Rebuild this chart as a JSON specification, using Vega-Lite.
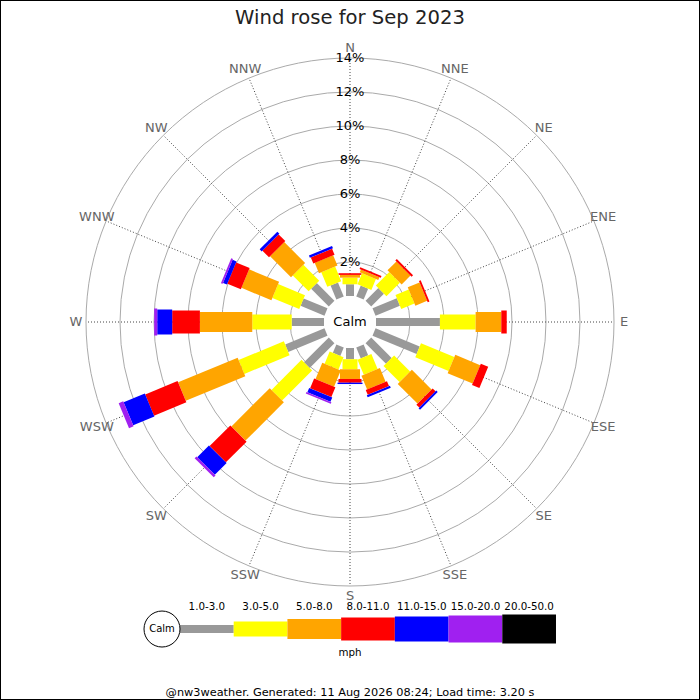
{
  "$schema": "https://vega.github.io/schema/vega-lite/v6.json",
  "width": 700,
  "height": 700,
  "padding": 0,
  "autosize": "none",
  "background": "white",
  "title": {"text": "Wind rose for Sep 2023", "fontSize": 19.6, "font": "DejaVu Sans", "fontWeight": "normal", "color": "#222222", "anchor": "middle", "frame": "group", "baseline": "alphabetic", "offset": -44},
  "config": {"font": "DejaVu Sans", "view": {"stroke": "#000000", "strokeWidth": 2}},
  "datasets": {
    "cats": [
      {"cat": "1.0-3.0", "lo": 1}, {"cat": "3.0-5.0", "lo": 3}, {"cat": "5.0-8.0", "lo": 5},
      {"cat": "8.0-11.0", "lo": 8}, {"cat": "11.0-15.0", "lo": 11}, {"cat": "15.0-20.0", "lo": 15},
      {"cat": "20.0-50.0", "lo": 20}
    ],
    "dirs": [
      {"dir": "N", "deg": 0}, {"dir": "NNE", "deg": 22.5}, {"dir": "NE", "deg": 45}, {"dir": "ENE", "deg": 67.5},
      {"dir": "E", "deg": 90}, {"dir": "ESE", "deg": 112.5}, {"dir": "SE", "deg": 135}, {"dir": "SSE", "deg": 157.5},
      {"dir": "S", "deg": 180}, {"dir": "SSW", "deg": 202.5}, {"dir": "SW", "deg": 225}, {"dir": "WSW", "deg": 247.5},
      {"dir": "W", "deg": 270}, {"dir": "WNW", "deg": 292.5}, {"dir": "NW", "deg": 315}, {"dir": "NNW", "deg": 337.5}
    ],
    "rings": [{"pct": 2}, {"pct": 4}, {"pct": 6}, {"pct": 8}, {"pct": 10}, {"pct": 12}, {"pct": 14}],
    "rose": [
      {"dir": "N", "deg": 0, "lo": 1, "pct": 0.69}, {"dir": "N", "deg": 0, "lo": 3, "pct": 0.39}, {"dir": "N", "deg": 0, "lo": 5, "pct": 0.16}, {"dir": "N", "deg": 0, "lo": 8, "pct": 0.10},
      {"dir": "NNE", "deg": 22.5, "lo": 1, "pct": 0.69}, {"dir": "NNE", "deg": 22.5, "lo": 3, "pct": 0.70}, {"dir": "NNE", "deg": 22.5, "lo": 5, "pct": 0.18}, {"dir": "NNE", "deg": 22.5, "lo": 8, "pct": 0.11},
      {"dir": "NE", "deg": 45, "lo": 1, "pct": 1.06}, {"dir": "NE", "deg": 45, "lo": 3, "pct": 1.12}, {"dir": "NE", "deg": 45, "lo": 5, "pct": 0.74}, {"dir": "NE", "deg": 45, "lo": 8, "pct": 0.12},
      {"dir": "ENE", "deg": 67.5, "lo": 1, "pct": 1.55}, {"dir": "ENE", "deg": 67.5, "lo": 3, "pct": 0.84}, {"dir": "ENE", "deg": 67.5, "lo": 5, "pct": 0.75}, {"dir": "ENE", "deg": 67.5, "lo": 8, "pct": 0.11},
      {"dir": "E", "deg": 90, "lo": 1, "pct": 3.76}, {"dir": "E", "deg": 90, "lo": 3, "pct": 2.10}, {"dir": "E", "deg": 90, "lo": 5, "pct": 1.51}, {"dir": "E", "deg": 90, "lo": 8, "pct": 0.32},
      {"dir": "ESE", "deg": 112.5, "lo": 1, "pct": 2.81}, {"dir": "ESE", "deg": 112.5, "lo": 3, "pct": 2.12}, {"dir": "ESE", "deg": 112.5, "lo": 5, "pct": 1.59}, {"dir": "ESE", "deg": 112.5, "lo": 8, "pct": 0.47},
      {"dir": "SE", "deg": 135, "lo": 1, "pct": 1.70}, {"dir": "SE", "deg": 135, "lo": 3, "pct": 1.33}, {"dir": "SE", "deg": 135, "lo": 5, "pct": 1.64}, {"dir": "SE", "deg": 135, "lo": 8, "pct": 0.24}, {"dir": "SE", "deg": 135, "lo": 11, "pct": 0.12},
      {"dir": "SSE", "deg": 157.5, "lo": 1, "pct": 0.69}, {"dir": "SSE", "deg": 157.5, "lo": 3, "pct": 0.96}, {"dir": "SSE", "deg": 157.5, "lo": 5, "pct": 0.87}, {"dir": "SSE", "deg": 157.5, "lo": 8, "pct": 0.31}, {"dir": "SSE", "deg": 157.5, "lo": 11, "pct": 0.13},
      {"dir": "S", "deg": 180, "lo": 1, "pct": 0.66}, {"dir": "S", "deg": 180, "lo": 3, "pct": 0.59}, {"dir": "S", "deg": 180, "lo": 5, "pct": 0.57}, {"dir": "S", "deg": 180, "lo": 8, "pct": 0.22}, {"dir": "S", "deg": 180, "lo": 11, "pct": 0.08},
      {"dir": "SSW", "deg": 202.5, "lo": 1, "pct": 0.53}, {"dir": "SSW", "deg": 202.5, "lo": 3, "pct": 0.78}, {"dir": "SSW", "deg": 202.5, "lo": 5, "pct": 1.04}, {"dir": "SSW", "deg": 202.5, "lo": 8, "pct": 0.62}, {"dir": "SSW", "deg": 202.5, "lo": 11, "pct": 0.28}, {"dir": "SSW", "deg": 202.5, "lo": 15, "pct": 0.10},
      {"dir": "SW", "deg": 225, "lo": 1, "pct": 2.06}, {"dir": "SW", "deg": 225, "lo": 3, "pct": 2.50}, {"dir": "SW", "deg": 225, "lo": 5, "pct": 3.19}, {"dir": "SW", "deg": 225, "lo": 8, "pct": 1.72}, {"dir": "SW", "deg": 225, "lo": 11, "pct": 0.98}, {"dir": "SW", "deg": 225, "lo": 15, "pct": 0.15},
      {"dir": "WSW", "deg": 247.5, "lo": 1, "pct": 2.50}, {"dir": "WSW", "deg": 247.5, "lo": 3, "pct": 2.88}, {"dir": "WSW", "deg": 247.5, "lo": 5, "pct": 3.79}, {"dir": "WSW", "deg": 247.5, "lo": 8, "pct": 2.06}, {"dir": "WSW", "deg": 247.5, "lo": 11, "pct": 1.35}, {"dir": "WSW", "deg": 247.5, "lo": 15, "pct": 0.29},
      {"dir": "W", "deg": 270, "lo": 1, "pct": 1.90}, {"dir": "W", "deg": 270, "lo": 3, "pct": 2.32}, {"dir": "W", "deg": 270, "lo": 5, "pct": 3.08}, {"dir": "W", "deg": 270, "lo": 8, "pct": 1.63}, {"dir": "W", "deg": 270, "lo": 11, "pct": 0.88}, {"dir": "W", "deg": 270, "lo": 15, "pct": 0.18},
      {"dir": "WNW", "deg": 292.5, "lo": 1, "pct": 1.52}, {"dir": "WNW", "deg": 292.5, "lo": 3, "pct": 1.71}, {"dir": "WNW", "deg": 292.5, "lo": 5, "pct": 1.91}, {"dir": "WNW", "deg": 292.5, "lo": 8, "pct": 0.86}, {"dir": "WNW", "deg": 292.5, "lo": 11, "pct": 0.25}, {"dir": "WNW", "deg": 292.5, "lo": 15, "pct": 0.11},
      {"dir": "NW", "deg": 315, "lo": 1, "pct": 1.47}, {"dir": "NW", "deg": 315, "lo": 3, "pct": 1.32}, {"dir": "NW", "deg": 315, "lo": 5, "pct": 1.74}, {"dir": "NW", "deg": 315, "lo": 8, "pct": 0.55}, {"dir": "NW", "deg": 315, "lo": 11, "pct": 0.17},
      {"dir": "NNW", "deg": 337.5, "lo": 1, "pct": 0.89}, {"dir": "NNW", "deg": 337.5, "lo": 3, "pct": 0.93}, {"dir": "NNW", "deg": 337.5, "lo": 5, "pct": 0.66}, {"dir": "NNW", "deg": 337.5, "lo": 8, "pct": 0.38}, {"dir": "NNW", "deg": 337.5, "lo": 11, "pct": 0.15}
    ]
  },
  "resolve": {"scale": {"x": "independent"}},
  "layer": [
    {
      "layer": [
        {
          "data": {"name": "rings"},
          "transform": [{"calculate": "datum.pct + 1.5294", "as": "r"}],
          "mark": {"type": "point", "shape": "circle", "filled": false, "color": "#aaaaaa", "strokeWidth": 1, "opacity": 1},
          "encoding": {
            "x": {"datum": 0, "type": "quantitative", "scale": {"domain": [-20.588, 20.588], "nice": false, "zero": false}, "axis": null},
            "y": {"datum": 0, "type": "quantitative", "scale": {"domain": [-22.235, 18.941], "nice": false, "zero": false}, "axis": null},
            "size": {"field": "r", "type": "quantitative", "scale": {"type": "pow", "exponent": 2, "domain": [0, 20], "range": [0, 462400]}, "legend": null}
          }
        },
        {
          "data": {"name": "dirs"},
          "transform": [
            {"calculate": "0", "as": "c"},
            {"calculate": "15.5294 * sin(datum.deg * PI / 180)", "as": "xe"},
            {"calculate": "15.5294 * cos(datum.deg * PI / 180)", "as": "ye"}
          ],
          "mark": {"type": "rule", "color": "#444444", "strokeWidth": 1, "strokeDash": [1, 2]},
          "encoding": {
            "x": {"field": "c", "type": "quantitative", "scale": {"domain": [-20.588, 20.588], "nice": false, "zero": false}, "axis": null},
            "y": {"field": "c", "type": "quantitative", "scale": {"domain": [-22.235, 18.941], "nice": false, "zero": false}, "axis": null},
            "x2": {"field": "xe"},
            "y2": {"field": "ye"}
          }
        },
        {
          "data": {"values": [{"label": "Calm"}]},
          "mark": {"type": "point", "shape": "circle", "filled": true, "color": "#ffffff", "size": 2704, "opacity": 1, "strokeWidth": 0},
          "encoding": {
            "x": {"datum": 0, "type": "quantitative", "scale": {"domain": [-20.588, 20.588], "nice": false, "zero": false}, "axis": null},
            "y": {"datum": 0, "type": "quantitative", "scale": {"domain": [-22.235, 18.941], "nice": false, "zero": false}, "axis": null}
          }
        },
        {
          "data": {"name": "rose"},
          "transform": [
            {"stack": "pct", "groupby": ["deg"], "sort": [{"field": "lo", "order": "ascending"}], "as": ["p0", "p1"]},
            {"calculate": "(datum.p0 + 1.5294) * sin(datum.deg * PI / 180)", "as": "x0"},
            {"calculate": "(datum.p0 + 1.5294) * cos(datum.deg * PI / 180)", "as": "y0"},
            {"calculate": "(datum.p1 + 1.5294) * sin(datum.deg * PI / 180)", "as": "x1"},
            {"calculate": "(datum.p1 + 1.5294) * cos(datum.deg * PI / 180)", "as": "y1"}
          ],
          "mark": {"type": "rule", "strokeCap": "butt"},
          "encoding": {
            "x": {"field": "x0", "type": "quantitative", "scale": {"domain": [-20.588, 20.588], "nice": false, "zero": false}, "axis": null},
            "y": {"field": "y0", "type": "quantitative", "scale": {"domain": [-22.235, 18.941], "nice": false, "zero": false}, "axis": null},
            "x2": {"field": "x1"},
            "y2": {"field": "y1"},
            "color": {"field": "lo", "type": "ordinal", "scale": {"type": "ordinal", "domain": [1, 3, 5, 8, 11, 15, 20], "range": ["#999999", "#ffff00", "#ffa500", "#ff0000", "#0000ff", "#a020f0", "#000000"]}, "legend": null},
            "strokeWidth": {"field": "lo", "type": "ordinal", "scale": {"type": "ordinal", "domain": [1, 3, 5, 8, 11, 15, 20], "range": [8, 15, 20, 23, 25, 27, 29]}, "legend": null}
          }
        },
        {
          "data": {"name": "rings"},
          "transform": [{"calculate": "datum.pct + 1.5294", "as": "r"}, {"calculate": "datum.pct + '%'", "as": "label"}],
          "mark": {"type": "text", "fontSize": 13, "color": "#000000", "align": "center", "baseline": "middle"},
          "encoding": {
            "x": {"datum": 0, "type": "quantitative", "scale": {"domain": [-20.588, 20.588], "nice": false, "zero": false}, "axis": null},
            "y": {"field": "r", "type": "quantitative", "scale": {"domain": [-22.235, 18.941], "nice": false, "zero": false}, "axis": null},
            "text": {"field": "label"}
          }
        },
        {
          "data": {"name": "dirs"},
          "transform": [
            {"calculate": "16.12 * sin(datum.deg * PI / 180)", "as": "xl"},
            {"calculate": "16.12 * cos(datum.deg * PI / 180)", "as": "yl"}
          ],
          "mark": {"type": "text", "fontSize": 13, "color": "#666666", "align": "center", "baseline": "middle"},
          "encoding": {
            "x": {"field": "xl", "type": "quantitative", "scale": {"domain": [-20.588, 20.588], "nice": false, "zero": false}, "axis": null},
            "y": {"field": "yl", "type": "quantitative", "scale": {"domain": [-22.235, 18.941], "nice": false, "zero": false}, "axis": null},
            "text": {"field": "dir"}
          }
        },
        {
          "data": {"values": [{"label": "Calm"}]},
          "mark": {"type": "text", "fontSize": 13, "color": "#000000", "align": "center", "baseline": "middle"},
          "encoding": {
            "x": {"datum": 0, "type": "quantitative", "scale": {"domain": [-20.588, 20.588], "nice": false, "zero": false}, "axis": null},
            "y": {"datum": 0, "type": "quantitative", "scale": {"domain": [-22.235, 18.941], "nice": false, "zero": false}, "axis": null},
            "text": {"field": "label"}
          }
        },
        {
          "data": {"values": [{"label": "@nw3weather. Generated: 11 Aug 2026 08:24; Load time: 3.20 s"}]},
          "mark": {"type": "text", "fontSize": 11.3, "color": "#000000", "align": "center", "baseline": "middle"},
          "encoding": {
            "x": {"datum": 0, "type": "quantitative", "scale": {"domain": [-20.588, 20.588], "nice": false, "zero": false}, "axis": null},
            "y": {"datum": -21.82, "type": "quantitative", "scale": {"domain": [-22.235, 18.941], "nice": false, "zero": false}, "axis": null},
            "text": {"field": "label"}
          }
        }
      ]
    },
    {
      "layer": [
        {
          "data": {"name": "cats"},
          "transform": [
            {"joinaggregate": [{"op": "count", "as": "n0"}]},
            {"calculate": "1", "as": "n"},
            {"stack": "n", "groupby": ["n0"], "sort": [{"field": "lo", "order": "ascending"}], "as": ["s0", "s1"]}
          ],
          "mark": {"type": "rule", "strokeCap": "butt"},
          "encoding": {
            "x": {"field": "s0", "type": "quantitative", "scale": {"domain": [-3.351, 9.681], "nice": false, "zero": false}, "axis": null},
            "x2": {"field": "s1"},
            "y": {"datum": -18.06, "type": "quantitative", "scale": {"domain": [-22.235, 18.941], "nice": false, "zero": false}, "axis": null},
            "color": {"field": "lo", "type": "ordinal", "scale": {"type": "ordinal", "domain": [1, 3, 5, 8, 11, 15, 20], "range": ["#999999", "#ffff00", "#ffa500", "#ff0000", "#0000ff", "#a020f0", "#000000"]}, "legend": null},
            "strokeWidth": {"field": "lo", "type": "ordinal", "scale": {"type": "ordinal", "domain": [1, 3, 5, 8, 11, 15, 20], "range": [8, 15, 20, 23, 25, 27, 29]}, "legend": null}
          }
        },
        {
          "data": {"name": "cats"},
          "transform": [
            {"joinaggregate": [{"op": "count", "as": "n0"}]},
            {"calculate": "1", "as": "n"},
            {"stack": "n", "groupby": ["n0"], "sort": [{"field": "lo", "order": "ascending"}], "as": ["s0", "s1"]},
            {"calculate": "(datum.s0 + datum.s1) / 2", "as": "mid"}
          ],
          "mark": {"type": "text", "fontSize": 10.3, "color": "#000000", "align": "center", "baseline": "middle"},
          "encoding": {
            "x": {"field": "mid", "type": "quantitative", "scale": {"domain": [-3.351, 9.681], "nice": false, "zero": false}, "axis": null},
            "y": {"datum": -16.765, "type": "quantitative", "scale": {"domain": [-22.235, 18.941], "nice": false, "zero": false}, "axis": null},
            "text": {"field": "cat"}
          }
        },
        {
          "data": {"values": [{"label": "Calm"}]},
          "mark": {"type": "point", "shape": "circle", "filled": true, "fill": "#ffffff", "stroke": "#000000", "strokeWidth": 1, "size": 1296, "opacity": 1},
          "encoding": {
            "x": {"datum": -0.335, "type": "quantitative", "scale": {"domain": [-3.351, 9.681], "nice": false, "zero": false}, "axis": null},
            "y": {"datum": -18.06, "type": "quantitative", "scale": {"domain": [-22.235, 18.941], "nice": false, "zero": false}, "axis": null}
          }
        },
        {
          "data": {"values": [{"label": "Calm"}]},
          "mark": {"type": "text", "fontSize": 10, "color": "#000000", "align": "center", "baseline": "middle"},
          "encoding": {
            "x": {"datum": -0.335, "type": "quantitative", "scale": {"domain": [-3.351, 9.681], "nice": false, "zero": false}, "axis": null},
            "y": {"datum": -18.06, "type": "quantitative", "scale": {"domain": [-22.235, 18.941], "nice": false, "zero": false}, "axis": null},
            "text": {"field": "label"}
          }
        },
        {
          "data": {"values": [{"label": "mph"}]},
          "mark": {"type": "text", "fontSize": 10.3, "color": "#000000", "align": "center", "baseline": "middle"},
          "encoding": {
            "x": {"datum": 3.165, "type": "quantitative", "scale": {"domain": [-3.351, 9.681], "nice": false, "zero": false}, "axis": null},
            "y": {"datum": -19.47, "type": "quantitative", "scale": {"domain": [-22.235, 18.941], "nice": false, "zero": false}, "axis": null},
            "text": {"field": "label"}
          }
        }
      ]
    }
  ]
}
